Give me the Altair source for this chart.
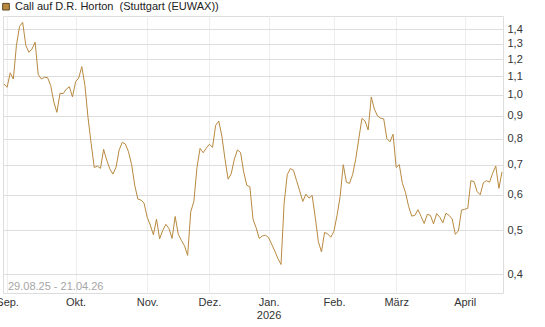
import altair as alt
import pandas as pd

# ---- data ----
values = [
    1.058, 1.04, 1.12, 1.085, 1.29, 1.42, 1.45, 1.29, 1.244, 1.265,
    1.31, 1.11, 1.085, 1.095, 1.093, 1.05, 0.965, 0.915, 1.009, 1.007,
    1.03, 1.043, 0.99, 1.07, 1.09, 1.156, 1.05, 0.89, 0.78, 0.69,
    0.695, 0.687, 0.757, 0.717, 0.685, 0.667, 0.691, 0.755, 0.785, 0.778,
    0.748, 0.70, 0.63, 0.587, 0.584, 0.575, 0.535, 0.514, 0.489, 0.53,
    0.479, 0.50, 0.516, 0.505, 0.48, 0.537, 0.49, 0.475, 0.462, 0.44,
    0.55, 0.58, 0.69, 0.761, 0.744, 0.762, 0.777, 0.765, 0.856, 0.875,
    0.81, 0.72, 0.65, 0.668, 0.72, 0.755, 0.745, 0.675, 0.63, 0.625,
    0.53, 0.507, 0.48, 0.486, 0.488, 0.482, 0.466, 0.45, 0.433, 0.42,
    0.575, 0.665, 0.686, 0.68, 0.645, 0.612, 0.58, 0.602, 0.59, 0.598,
    0.535, 0.472, 0.448, 0.495, 0.491, 0.483, 0.498, 0.54, 0.595, 0.70,
    0.64, 0.636, 0.665, 0.72, 0.80, 0.887, 0.875, 0.836, 0.99, 0.93,
    0.898, 0.888, 0.885, 0.80, 0.787, 0.818, 0.69, 0.70, 0.636, 0.607,
    0.565, 0.538, 0.54, 0.556, 0.537, 0.518, 0.543, 0.54, 0.517, 0.545,
    0.535, 0.52, 0.546, 0.54, 0.53, 0.49, 0.499, 0.555, 0.557, 0.56,
    0.645, 0.642, 0.61, 0.60, 0.638, 0.645, 0.64, 0.67, 0.695, 0.62,
    0.675,
]
trading_day = list(range(len(values)))

month_positions = [1, 23, 46, 66, 85, 106, 126, 148]
month_labels = ["Sep.", "Okt.", "Nov.", "Dez.", "Jan.", "Feb.", "März", "April"]
year_label_position = 85
year_label = "2026"

y_ticks = [0.4, 0.5, 0.6, 0.7, 0.8, 0.9, 1.0, 1.1, 1.2, 1.3, 1.4]

series_label = "Call auf D.R. Horton\u00a0 (Stuttgart (EUWAX))"
range_label = "29.08.25 - 21.04.26"

LINE_COLOR = "#b8893f"
FONT = "Liberation Sans"

df = pd.DataFrame({"idx": trading_day, "price": values})

# label expression for x axis
expr = "''"
for pos, lab in reversed(list(zip(month_positions, month_labels))):
    if pos == year_label_position:
        val = f"['{lab}', '{year_label}']"
    else:
        val = f"'{lab}'"
    expr = f"datum.value == {pos} ? {val} : ({expr})"

x = alt.X(
    "idx:Q",
    scale=alt.Scale(domain=[-0.32, 160.32], nice=False, zero=False),
    axis=alt.Axis(
        values=month_positions,
        labelExpr=expr,
        grid=True,
        gridColor="#eeeeee",
        ticks=False,
        domain=False,
        title=None,
        labelFont=FONT,
        labelFontSize=11,
        labelColor="#333333",
        labelPadding=3,
        labelLineHeight=13,
        labelBaseline="top",
        labelFlush=False,
        labelOverlap=False,
    ),
)
y = alt.Y(
    "price:Q",
    scale=alt.Scale(type="log", domain=[0.363, 1.498], nice=False, zero=False),
    axis=alt.Axis(
        orient="right",
        values=y_ticks,
        labelExpr="replace(format(datum.value, '.1f'), '.', ',')",
        grid=True,
        gridColor="#dddddd",
        ticks=False,
        domain=False,
        title=None,
        labelFont=FONT,
        labelFontSize=11,
        labelColor="#333333",
        labelPadding=4,
        labelOverlap=False,
    ),
)

line = alt.Chart(df).mark_line(color=LINE_COLOR, strokeWidth=1).encode(x=x, y=y)

one = pd.DataFrame({"label": [series_label]})
legend_sq = alt.Chart(one).mark_square(
    size=44, fill=LINE_COLOR, stroke="#5e4626", strokeWidth=1, opacity=1
).encode(x=alt.value(3), y=alt.value(-9.3))
legend_txt = alt.Chart(one).mark_text(
    align="left", baseline="middle", font=FONT, fontSize=11, color="#222222"
).encode(x=alt.value(12), y=alt.value(-9), text="label:N")

rng = pd.DataFrame({"label": [range_label]})
range_txt = alt.Chart(rng).mark_text(
    align="left", baseline="middle", font=FONT, fontSize=11, color="#a6a6a6"
).encode(x=alt.value(5), y=alt.value(270.5), text="label:N")

chart = alt.layer(line, legend_sq, legend_txt, range_txt).properties(
    width=500,
    height=277,
    autosize=alt.AutoSizeParams(type="none"),
    padding={"left": 3, "top": 16, "right": 42, "bottom": 34},
).configure_view(stroke="#dddddd", strokeWidth=1).configure(background="white")

chart.save("out.html", embed_options={"renderer": "svg", "actions": False})
